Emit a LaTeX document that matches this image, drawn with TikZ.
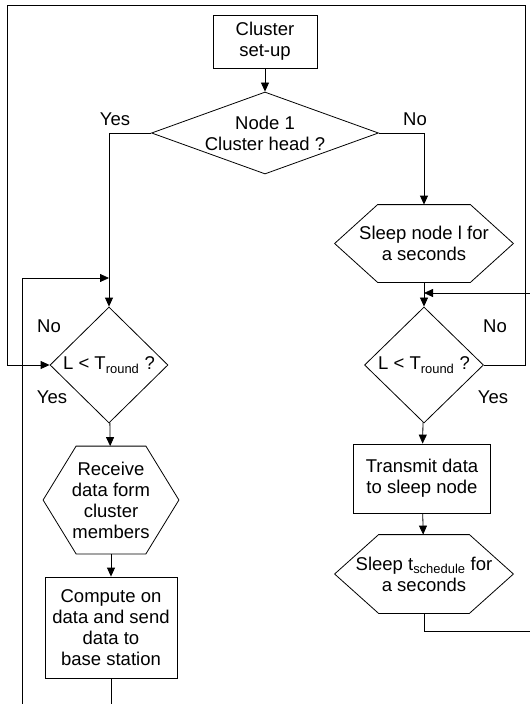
\documentclass[tikz,border=0pt]{standalone}
\usepackage{fontspec}
\setmainfont{Liberation Sans}
\usetikzlibrary{shapes.geometric,arrows.meta}
\begin{document}
\begin{tikzpicture}[x=1pt,y=-1pt,
  font=\fontsize{18.5}{21}\selectfont,
  line width=0.8pt,
  box/.style={draw, rectangle, align=center, inner sep=0pt},
  decision/.style={draw, diamond, align=center, inner sep=0pt},
  hexa/.style={align=center, inner sep=0pt},
  flow/.style={-{Triangle[length=9pt,width=8pt]}}]
  \path[use as bounding box, clip] (0,0) rectangle (530,704);
  % left column
  \node[box, minimum width=104pt, minimum height=53pt] (setup) at (265,41.5) {Cluster\\set-up};
  \node[decision, aspect=2.77, minimum width=227pt, minimum height=82pt] (head) at (265,133) {Node 1\\Cluster head ?};
  \node[decision, minimum width=118pt, minimum height=116pt] (ltest) at (109,365) {L < T\textsubscript{round} ?};
  \node[hexa, minimum width=135pt, minimum height=107pt] (recv) at (111,500) {Receive\\data form\\cluster\\members};
  \node[box, minimum width=132pt, minimum height=101pt] (comp) at (111,627.5) {Compute on\\data and send\\data to\\base station};
  % right column
  \node[hexa, minimum width=178pt, minimum height=77pt] (sleepa) at (424,243.5) {Sleep node l for\\a seconds};
  \node[decision, minimum width=119pt, minimum height=116pt] (rtest) at (424,365) {L < T\textsubscript{round} ?};
  \node[box, minimum width=137pt, minimum height=69pt] (send) at (422,478.5) {Transmit data\\to sleep node};
  \node[hexa, minimum width=178pt, minimum height=78pt] (sleepb) at (424,574) {Sleep t\textsubscript{schedule} for\\a seconds};
  \foreach \n/\d in {sleepa/43, recv/33, sleepb/44}
    \draw (\n.west) -- ([xshift=\d pt]\n.north west) -- ([xshift=-\d pt]\n.north east)
      -- (\n.east) -- ([xshift=-\d pt]\n.south east) -- ([xshift=\d pt]\n.south west) -- cycle;
  % branch labels
  \node (yesa) at (115,119) {Yes};
  \node (noa) at (415,119) {No};
  \node (nob) at (49,326) {No};
  \node (yesb) at (52,397) {Yes};
  \node (noc) at (495,326) {No};
  \node (yesc) at (493,397) {Yes};
  % flow
  \draw[flow] (setup) -- (head);
  \draw[flow] (head.west) -| (ltest.north);
  \draw[flow] (head.east) -| (sleepa.north);
  \draw[flow] (sleepa) -- (rtest);
  \draw[flow] (rtest) -- (send);
  \draw[flow] (send) -- (sleepb);
  \draw[flow] (ltest) -- (recv);
  \draw[flow] (recv) -- (comp);
  % loops
  \coordinate (tr) at (525,5);
  \coordinate (tl) at (7,5);
  \draw[flow] (rtest.east) -| (tr) -- (tl) |- (ltest.west);
  \coordinate (lb) at (22,740);
  \coordinate (lj) at (109,278);
  \draw[flow] (comp.south) |- (lb) |- (lj);
  \coordinate (rb) at (560,631);
  \coordinate (rj) at (424,293);
  \draw[flow] (sleepb.south) |- (rb) |- (rj);
\end{tikzpicture}
\end{document}
